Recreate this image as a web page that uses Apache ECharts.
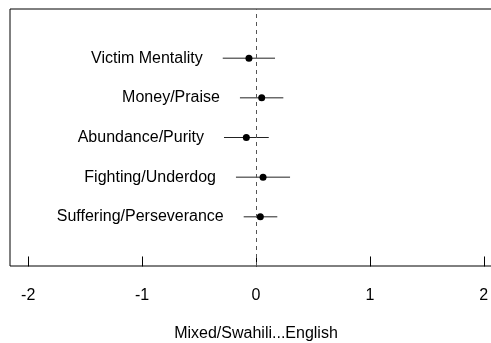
<!DOCTYPE html>
<html>
<head>
<meta charset="utf-8">
<script src="https://cdn.jsdelivr.net/npm/echarts@6/dist/echarts.min.js"></script>
<style>html,body{margin:0;padding:0;background:#fff}#c{width:491px;height:343px}</style>
</head>
<body>
<div id="c"></div>
<script>
const categories = ["Victim Mentality", "Money/Praise", "Abundance/Purity", "Fighting/Underdog", "Suffering/Perseverance"];
const yPositions = [5, 4, 3, 2, 1];
const estimates = [-0.062, 0.050, -0.085, 0.062, 0.038];
const lowerCI = [-0.292, -0.141, -0.281, -0.176, -0.108];
const upperCI = [0.167, 0.240, 0.112, 0.299, 0.187];
const xTicks = [-2, -1, 0, 1, 2];
const xTitle = "Mixed/Swahili...English";

const data = categories.map((c, i) => [estimates[i], yPositions[i], lowerCI[i], upperCI[i], c]);
const font = "Liberation Sans, Arial, sans-serif";

const chart = echarts.init(document.getElementById('c'));
chart.setOption({
  animation: false,
  grid: {
    left: 10, top: 9, bottom: 77, right: -11,
    show: true, borderColor: '#000', borderWidth: 1,
    containLabel: false, outerBoundsMode: 'none'
  },
  xAxis: {
    type: 'value', min: -2.16, max: 2.16,
    splitLine: { show: false },
    axisLine: { show: false },
    axisTick: { show: true, length: 10, customValues: xTicks, lineStyle: { color: '#000' } },
    axisLabel: { customValues: xTicks, color: '#000', fontSize: 16, fontFamily: font, margin: 22 },
    name: xTitle, nameLocation: 'middle', nameGap: 60,
    nameTextStyle: { color: '#000', fontSize: 16, fontFamily: font }
  },
  yAxis: {
    type: 'value', min: -0.24, max: 6.24,
    show: false
  },
  series: [{
    type: 'custom',
    data: data,
    renderItem: function (params, api) {
      const y = api.value(1);
      const pEst = api.coord([api.value(0), y]);
      const pLo = api.coord([api.value(2), y]);
      const pHi = api.coord([api.value(3), y]);
      return {
        type: 'group',
        children: [
          { type: 'line', shape: { x1: pLo[0], y1: pLo[1], x2: pHi[0], y2: pHi[1] },
            style: { stroke: '#222', lineWidth: 1 } },
          { type: 'circle', shape: { cx: pEst[0], cy: pEst[1], r: 3.5 },
            style: { fill: '#000' } },
          { type: 'text', x: pLo[0] - 20, y: pLo[1],
            style: { text: categories[params.dataIndex], fill: '#000', font: '16px ' + font,
                     align: 'right', verticalAlign: 'middle' } }
        ]
      };
    },
    markLine: {
      silent: true, symbol: 'none',
      label: { show: false },
      lineStyle: { color: '#555', type: [4, 4], width: 1 },
      data: [{ xAxis: 0 }]
    },
    z: 3
  }]
});
</script>
</body>
</html>
